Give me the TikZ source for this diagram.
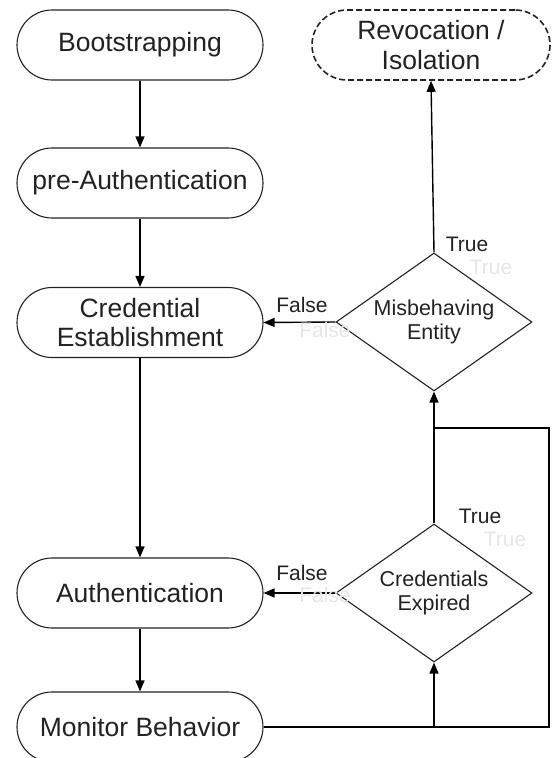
\documentclass[tikz,border=0pt]{standalone}
\usepackage{fontspec}
\setmainfont{Liberation Sans}
\usetikzlibrary{arrows.meta,shapes.geometric}

\definecolor{ink}{HTML}{222222}
\definecolor{ghost}{HTML}{E6E6E6}

\tikzset{
  every picture/.style={x=1pt,y=1pt},
  stage/.style={draw=ink, line width=1.1pt, rounded corners=35pt,
    minimum width=246pt, minimum height=70pt, inner sep=0pt,
    align=center, text=ink, font=\fontsize{26.5}{29.5}\selectfont},
  endstage/.style={stage, dashed, dash pattern=on 6pt off 3pt, line width=1.6pt,
    minimum width=238pt},
  decision/.style={draw=ink, line width=1.1pt, diamond, aspect=1.42,
    minimum width=196pt, minimum height=138pt, inner sep=0pt,
    align=center, text=ink, font=\fontsize{21.5}{24}\selectfont},
  flow/.style={draw=black, line width=1.4pt,
    -{Triangle[length=11pt,width=9pt]}},
  wire/.style={draw=black, line width=1.4pt},
  tag/.style={text=ink, font=\fontsize{21}{24}\selectfont, inner sep=0pt},
  ghosttag/.style={text=ghost, font=\fontsize{21}{24}\selectfont, inner sep=0pt}
}

\begin{document}
\begin{tikzpicture}
\useasboundingbox (0,0) rectangle (553,-758);

% main sequence of stages
\node[stage] (boot) at (140,-45) {Bootstrapping};
\node[stage] (pre)  at (140,-183) {pre-Authentication};
\node[stage] (cred) at (140,-322.5) {Credential\\Establishment};
\node[stage] (auth) at (140,-593) {Authentication};
\node[stage] (mon)  at (140,-727) {Monitor Behavior};

% terminal stage
\node[endstage] (rev) at (431,-45) {Revocation /\\Isolation};

% decisions
\node[decision] (mis) at (434,-322) {Misbehaving\\Entity};
\node[decision] (exp) at (434,-593) {Credentials\\Expired};

% downward flow
\draw[flow] (boot) -- (pre);
\draw[flow] (pre) -- (cred);
\draw[flow] (cred) -- (auth);
\draw[flow] (auth) -- (mon);

% monitoring loop back into the checks
\coordinate (loopbr) at (549,-727);
\coordinate (looptr) at (549,-428);
\coordinate (join)   at (434,-428);
\coordinate (tap)    at (434,-727);
\draw[wire] (mon.east) -- (loopbr) -- (looptr) -- (join);
\draw[flow] (tap) -- (exp.south);
\draw[flow] (exp.north) -- (mis.south);

% decision outcomes
\draw[flow] (mis.north) -- (rev.south);
\draw[flow] (mis.west) -- (cred.east);
\draw[flow] (exp.west) -- (auth.east);

% outcome labels
\node[ghosttag] (gt1) at (491,-267) {True};
\node[ghosttag] (gf1) at (325,-330) {False};
\node[ghosttag] (gt2) at (505,-539) {True};
\node[ghosttag] (gf2) at (325,-595) {False};
\node[tag] (t1) at (467,-244) {True};
\node[tag] (f1) at (302,-305) {False};
\node[tag] (t2) at (480,-516) {True};
\node[tag] (f2) at (302,-573) {False};
\end{tikzpicture}
\end{document}
